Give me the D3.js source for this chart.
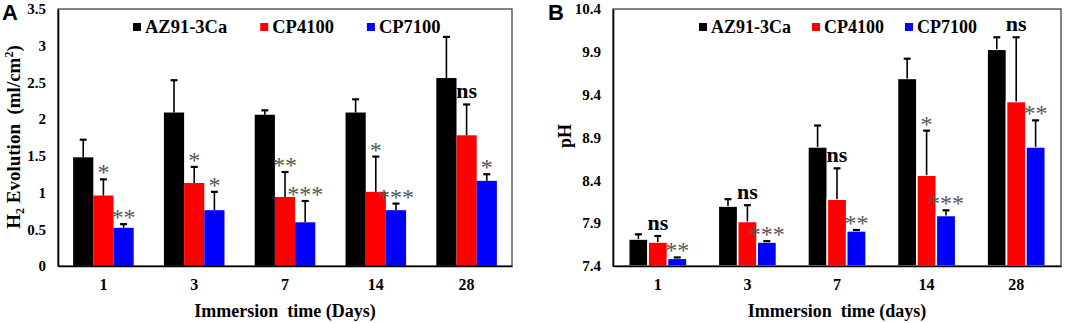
<!DOCTYPE html>
<html>
<head>
<meta charset="utf-8">
<script src="https://cdn.jsdelivr.net/npm/d3@7"></script>
<style>
  body { margin: 0; background: #fff; }
  svg text { font-family: "Liberation Serif", "Times New Roman", serif; white-space: pre; }
</style>
</head>
<body>
<svg id="chart" width="1065" height="323"></svg>
<script>
// data
var days = ["1", "3", "7", "14", "28"];
var seriesNames = ["AZ91-3Ca", "CP4100", "CP7100"];
var seriesColors = ["#000000", "#ff0000", "#0000ff"];

// panel A: H2 evolution (ml/cm2)
var h2AZ91 = [1.48, 2.09, 2.06, 2.09, 2.56];
var h2CP4100 = [0.96, 1.13, 0.94, 1.01, 1.78];
var h2CP7100 = [0.52, 0.76, 0.595, 0.76, 1.16];
var h2ErrAZ91 = [0.24, 0.44, 0.06, 0.18, 0.56];
var h2ErrCP4100 = [0.22, 0.22, 0.34, 0.48, 0.42];
var h2ErrCP7100 = [0.05, 0.25, 0.29, 0.09, 0.09];
var h2SigCP4100 = ["*", "*", "**", "*", "ns"];
var h2SigCP7100 = ["**", "*", "***", "***", "*"];
var h2Ticks = [0, 0.5, 1, 1.5, 2, 2.5, 3, 3.5];
var h2TickLabels = ["0", "0.5", "1", "1.5", "2", "2.5", "3", "3.5"];

// panel B: pH
var phAZ91 = [7.715, 8.10, 8.79, 9.59, 9.93];
var phCP4100 = [7.68, 7.92, 8.18, 8.46, 9.32];
var phCP7100 = [7.49, 7.68, 7.81, 7.99, 8.79];
var phErrAZ91 = [0.055, 0.08, 0.25, 0.23, 0.14];
var phErrCP4100 = [0.07, 0.19, 0.36, 0.52, 0.75];
var phErrCP7100 = [0.01, 0.01, 0.01, 0.06, 0.31];
var phSigCP4100 = ["ns", "ns", "ns", "*", "ns"];
var phSigCP7100 = ["**", "***", "**", "***", "**"];
var phTicks = [7.4, 7.9, 8.4, 8.9, 9.4, 9.9, 10.4];
var phTickLabels = ["7.4", "7.9", "8.4", "8.9", "9.4", "9.9", "10.4"];

var svg = d3.select("#chart");

var drawPanel = function(opt) {
    var g = svg.append("g");
    var x0 = d3.scaleBand().domain(days).range([opt.left, opt.right]).padding(0);
    var bw = x0.bandwidth();
    var gw = bw * opt.groupFrac;
    var x1 = d3.scaleBand().domain(seriesNames).range([(bw - gw) / 2, (bw + gw) / 2]).padding(0);
    var y = d3.scaleLinear().domain(opt.domain).range([opt.bottom, opt.top]);

    // bars
    opt.means.forEach(function(vals, s) {
        g.selectAll(".bar" + s)
            .data(vals)
            .enter()
            .append("rect")
            .attr("x", function(d, i) { return x0(days[i]) + x1(seriesNames[s]); })
            .attr("width", x1.bandwidth())
            .attr("y", function(d) { return y(d); })
            .attr("height", function(d) { return y(opt.domain[0]) - y(d); })
            .attr("fill", seriesColors[s])
            .attr("stroke", opt.barStroke ? "#fff" : "none")
            .attr("stroke-width", opt.barStroke ? 1.6 : 0);
    });

    // error bars (upper only)
    opt.means.forEach(function(vals, s) {
        var errs = opt.errs[s];
        vals.forEach(function(d, i) {
            var cx = x0(days[i]) + x1(seriesNames[s]) + x1.bandwidth() / 2;
            g.append("line")
                .attr("x1", cx).attr("x2", cx)
                .attr("y1", y(d)).attr("y2", y(d + errs[i]))
                .attr("stroke", "#000").attr("stroke-width", 1.6);
            g.append("line")
                .attr("x1", cx - 3.5).attr("x2", cx + 3.5)
                .attr("y1", y(d + errs[i])).attr("y2", y(d + errs[i]))
                .attr("stroke", "#000").attr("stroke-width", 2.2);
        });
    });

    // significance marks
    opt.sigs.forEach(function(labels, k) {
        var s = k + 1;
        labels.forEach(function(lab, i) {
            var cx = x0(days[i]) + x1(seriesNames[s]) + x1.bandwidth() / 2;
            var top = y(opt.means[s][i] + opt.errs[s][i]);
            var ns = lab === "ns";
            g.append("text")
                .attr("x", cx)
                .attr("y", ns ? top - 6 : top + 1)
                .attr("text-anchor", "middle")
                .attr("font-size", ns ? 22 : 24)
                .attr("font-weight", ns ? "bold" : "normal")
                .attr("fill", ns ? "#000" : "#555")
                .text(lab);
        });
    });

    // frame
    g.append("rect")
        .attr("x", opt.left).attr("y", opt.top)
        .attr("width", opt.right - opt.left).attr("height", opt.bottom - opt.top)
        .attr("fill", "none").attr("stroke", "#333").attr("stroke-width", 1.2);

    // axes
    var yAxis = d3.axisLeft(y).tickValues(opt.ticks).tickSize(0).tickPadding(12)
        .tickFormat(function(d, i) { return opt.tickLabels[i]; });
    var ya = g.append("g").attr("transform", "translate(" + opt.left + ",0)").call(yAxis);
    ya.select(".domain").attr("stroke", "#000").attr("stroke-width", 1.6);
    ya.selectAll("text")
        .attr("font-family", "Liberation Serif, serif")
        .attr("font-size", 15).attr("font-weight", "bold").attr("fill", "#000");

    var xAxis = d3.axisBottom(x0).tickSize(0).tickPadding(13);
    var xa = g.append("g").attr("transform", "translate(0," + opt.bottom + ")").call(xAxis);
    xa.select(".domain").attr("stroke", "#000").attr("stroke-width", 1.6);
    xa.selectAll("text")
        .attr("font-family", "Liberation Serif, serif")
        .attr("font-size", 16).attr("font-weight", "bold").attr("fill", "#000");

    // x title
    g.append("text")
        .attr("x", (opt.left + opt.right) / 2).attr("y", 317)
        .attr("text-anchor", "middle")
        .attr("font-size", 18).attr("font-weight", "bold")
        .text(opt.xTitle);

    // legend
    var lx = opt.legendX;
    seriesNames.forEach(function(name, s) {
        g.append("rect")
            .attr("x", lx).attr("y", opt.legendY - 10)
            .attr("width", 8).attr("height", 8)
            .attr("fill", seriesColors[s]);
        var t = g.append("text")
            .attr("x", lx + 12).attr("y", opt.legendY)
            .attr("font-size", opt.legendSize).attr("font-weight", "bold")
            .text(name);
        lx += 12 + t.node().getComputedTextLength() + opt.legendGap;
    });

    // panel letter
    g.append("text")
        .attr("x", opt.letterX).attr("y", 20)
        .style("font-family", "'Liberation Sans', Arial, sans-serif")
        .attr("font-size", 22).attr("font-weight", "bold")
        .text(opt.letter);

    return g;
};

var gA = drawPanel({
    left: 58, right: 512, top: 9, bottom: 266,
    domain: [0, 3.5], ticks: h2Ticks, tickLabels: h2TickLabels,
    means: [h2AZ91, h2CP4100, h2CP7100],
    errs: [h2ErrAZ91, h2ErrCP4100, h2ErrCP7100],
    sigs: [h2SigCP4100, h2SigCP7100],
    groupFrac: 0.667, barStroke: false,
    xTitle: "Immersion  time (Days)",
    legendX: 133, legendY: 33, legendSize: 18.5, legendGap: 33,
    letter: "A", letterX: 2
});

// y title A with sub/superscript
var ytA = gA.append("text")
    .attr("transform", "translate(20,137) rotate(-90)")
    .attr("text-anchor", "middle")
    .attr("font-size", 19).attr("font-weight", "bold");
ytA.append("tspan").text("H");
ytA.append("tspan").attr("font-size", 12).attr("dy", 4).text("2");
ytA.append("tspan").attr("dy", -4).text(" Evolution  (ml/cm");
ytA.append("tspan").attr("font-size", 12).attr("dy", -7).text("2");
ytA.append("tspan").attr("dy", 7).text(")");

var gB = drawPanel({
    left: 613, right: 1061, top: 9, bottom: 266,
    domain: [7.4, 10.4], ticks: phTicks, tickLabels: phTickLabels,
    means: [phAZ91, phCP4100, phCP7100],
    errs: [phErrAZ91, phErrCP4100, phErrCP7100],
    sigs: [phSigCP4100, phSigCP7100],
    groupFrac: 0.65, barStroke: true,
    xTitle: "Immersion  time (days)",
    legendX: 699, legendY: 33, legendSize: 18, legendGap: 21,
    letter: "B", letterX: 548
});

gB.append("text")
    .attr("transform", "translate(571,136) rotate(-90)")
    .attr("text-anchor", "middle")
    .attr("font-size", 18).attr("font-weight", "bold")
    .text("pH");
</script>
</body>
</html>
